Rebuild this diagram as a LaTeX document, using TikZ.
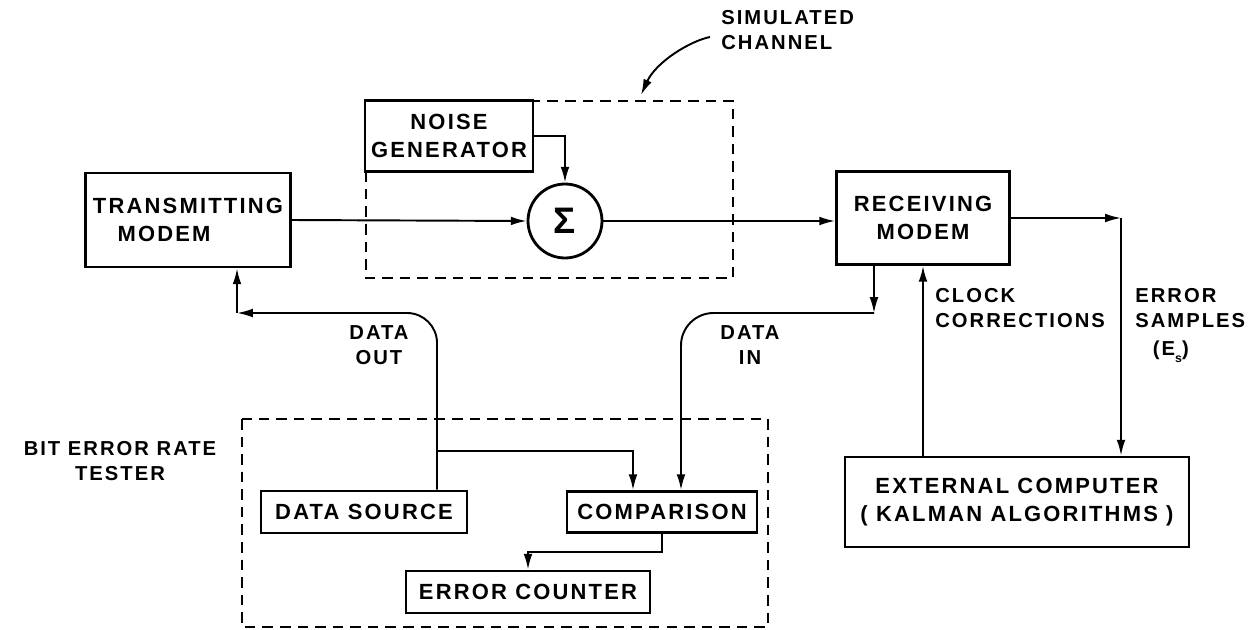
\documentclass[tikz,border=0pt]{standalone}
\usepackage{fontspec}
\setmainfont{Liberation Sans}[LetterSpace=10]
\usetikzlibrary{arrows.meta}

\tikzset{
    block/.style={draw, line width=1.6pt, fill=white, inner sep=2pt, align=center,
        font=\bfseries\fontsize{12.5}{16}\selectfont},
    tag/.style={inner sep=0pt, font=\bfseries\fontsize{11.5}{14}\selectfont},
    wire/.style={line width=1.1pt, -{Latex[length=9pt,width=5pt]}},
    frame/.style={line width=1.1pt, dash pattern=on 6pt off 4pt}
}

\begin{document}
\begin{tikzpicture}[x=0.02cm, y=-0.02cm]
        \useasboundingbox (0,0) rectangle (1250,629);

        % dashed groups
        \draw[frame] (366,101) rectangle (733,278);
        \draw[frame] (242,419) rectangle (768,627);

        % blocks
        \node[block, minimum width=4.1cm, minimum height=1.88cm, align=left] (tx) at (188,220) {TRANSMITTING\\\hspace*{14pt}MODEM};
        \node[block, minimum width=3.36cm, minimum height=1.42cm] (noise) at (449,136) {NOISE\\GENERATOR};
        \node[draw, circle, line width=1.6pt, fill=white, minimum size=1.48cm, inner sep=0pt,
            font=\bfseries\fontsize{21}{21}\selectfont] (sum) at (565,221) {Σ};
        \node[block, minimum width=3.46cm, minimum height=1.86cm] (rx) at (923,218) {RECEIVING\\MODEM};
        \node[block, minimum width=6.88cm, minimum height=1.8cm] (ext) at (1017,502) {EXTERNAL COMPUTER\\( KALMAN ALGORITHMS )};
        \node[block, minimum width=4.12cm, minimum height=0.84cm] (src) at (364,512) {DATA SOURCE};
        \node[block, minimum width=3.8cm, minimum height=0.82cm] (cmp) at (662,512) {COMPARISON};
        \node[block, minimum width=4.88cm, minimum height=0.84cm] (cnt) at (528,592) {ERROR COUNTER};

        % labels
        \node[tag, anchor=north west, align=left] (simlbl) at (721,10) {SIMULATED\\CHANNEL};
        \node[tag, align=center] (berlbl) at (120,461) {BIT ERROR RATE\\TESTER};
        \node[tag, align=center] (doutlbl) at (379,345) {DATA\\OUT};
        \node[tag, align=center] (dinlbl) at (750,345) {DATA\\IN};
        \node[tag, anchor=north west, align=left] (cklbl) at (935,288) {CLOCK\\CORRECTIONS};
        \node[tag, anchor=north west, align=left] (eslbl) at (1135,288) {ERROR\\SAMPLES\\[2pt]\hspace*{10pt}(E\raisebox{-0.7ex}{\scriptsize s})};

        % helper points
        \coordinate (chtail) at (710,37);
        \coordinate (chtip) at (641,95);
        \coordinate (es) at (1121,218);
        \coordinate (din) at (874,313);
        \coordinate (dout) at (237,313);
        \coordinate (tap) at (437,451);

        % signal path
        \draw[wire] (tx.east) -- (sum.west);
        \draw[wire] (noise.east) -| (sum.north);
        \draw[wire] (sum.east) -- (sum.east -| rx.west);
        \draw[wire] (rx.east |- es) -- (es);
        \draw[wire] (es) -- (es |- ext.north);
        \draw[wire] (rx.south |- ext.north) -- (rx.south);

        % data in / data out
        \draw[wire] (rx.south -| din) -- (din);
        \draw[wire, rounded corners=0.65cm] (din) -| ([xshift=0.38cm]cmp.north);
        \draw[wire, rounded corners=0.6cm] (src.north -| tap) -- (tap |- dout) -- (dout);
        \draw[wire] (dout) -- (dout |- tx.south);
        \draw[wire] (tap) -| ([xshift=-0.58cm]cmp.north);
        \draw[wire] (cmp.south) -- ++(0,18) -| (cnt.north);

        % pointer to the channel
        \draw[wire] (chtail) .. controls (690,41) and (656,62) .. (chtip);
\end{tikzpicture}
\end{document}
